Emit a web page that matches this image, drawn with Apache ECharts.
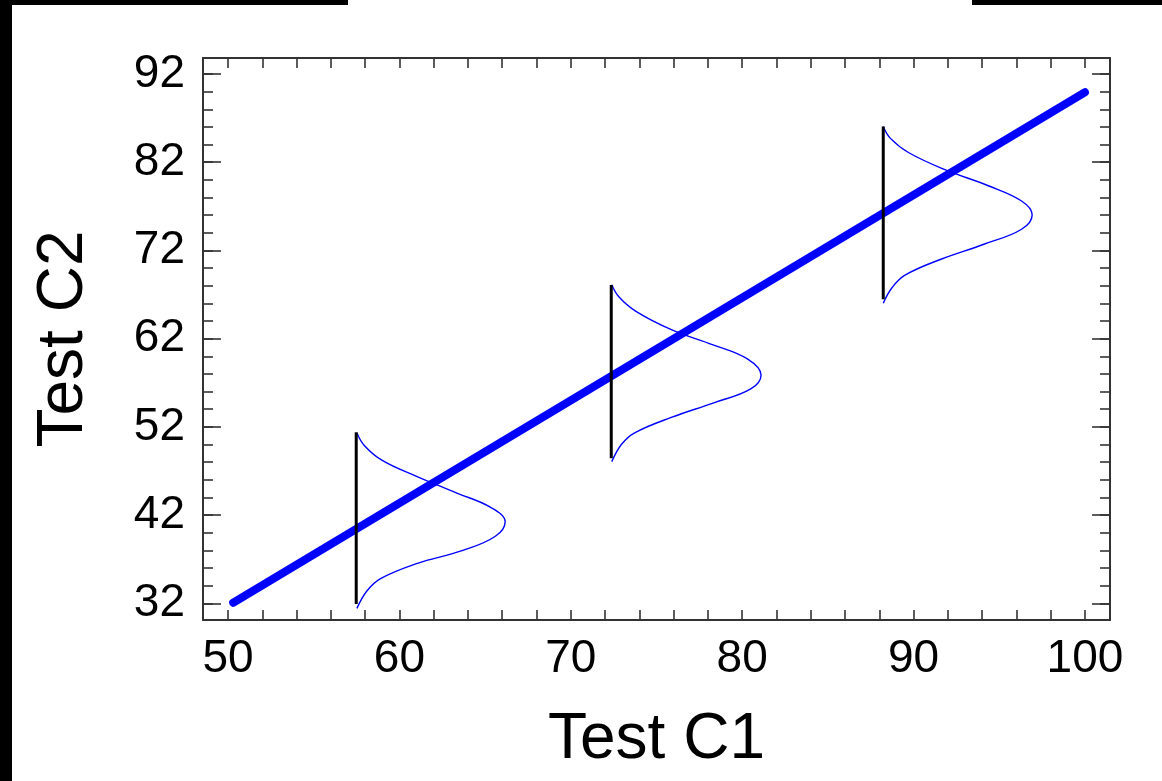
<!DOCTYPE html>
<html>
<head>
<meta charset="utf-8">
<script src="https://cdn.jsdelivr.net/npm/echarts@6/dist/echarts.min.js"></script>
<style>
  html, body { margin: 0; padding: 0; background: #fff; }
  #chart { width: 1162px; height: 781px; }
</style>
</head>
<body>
<div id="chart"></div>
<script>
// Axis ranges and tick positions
const xRange = [48.54, 101.46];
const yRange = [30.11, 93.81];
const xLabelValues = [50, 60, 70, 80, 90, 100];
const xTickValues = [50, 52, 54, 56, 58, 60, 62, 64, 66, 68, 70, 72, 74, 76, 78, 80,
                     82, 84, 86, 88, 90, 92, 94, 96, 98, 100];
const yLabelValues = [32, 42, 52, 62, 72, 82, 92];
const yMinorValues = [32, 34, 36, 38, 40, 42, 44, 46, 48, 50, 52, 54, 56, 58, 60, 62,
                      64, 66, 68, 70, 72, 74, 76, 78, 80, 82, 84, 86, 88, 90, 92];

// Fitted line (Test C1 -> Test C2)
const fitLine = [[50.3, 32.07], [100, 89.93]];

// Vertical reference segments at three Test C1 values
const segment1 = [[57.48, 31.92], [57.48, 51.39]];
const segment2 = [[72.36, 48.44], [72.36, 68.09]];
const segment3 = [[88.23, 66.47], [88.23, 86.04]];

// Conditional distribution curves drawn beside each segment
const curve1 = [
  [57.52, 51.30], [57.95, 49.90], [59.00, 48.20], [61.00, 46.40], [63.35, 44.50],
  [65.30, 42.90], [66.17, 41.25], [65.60, 39.60], [63.70, 38.00], [61.00, 36.50],
  [58.90, 34.80], [58.10, 33.40], [57.52, 31.43]
];
const curve2 = [
  [72.39, 68.10], [72.80, 66.75], [73.80, 65.10], [75.90, 63.00], [78.30, 61.30],
  [80.30, 59.70], [81.10, 57.88], [80.50, 56.30], [78.30, 54.70], [75.90, 53.10],
  [73.70, 51.30], [72.95, 50.00], [72.39, 48.06]
];
const curve3 = [
  [88.23, 86.05], [88.65, 84.70], [89.70, 83.10], [91.90, 81.10], [94.40, 79.30],
  [96.30, 77.60], [96.92, 76.05], [96.30, 74.40], [94.10, 72.70], [91.60, 71.00],
  [89.50, 69.20], [88.75, 67.80], [88.23, 66.02]
];

const FONT = '"Liberation Sans", Arial, Helvetica, sans-serif';
const frameColor = '#333333';

function frameX(position, withLabels) {
  return {
    type: 'value', position: position, min: xRange[0], max: xRange[1],
    axisLine: { show: true, onZero: false, lineStyle: { color: frameColor, width: 2 } },
    axisTick: { show: true, inside: true, length: 10, customValues: xTickValues,
                lineStyle: { color: frameColor, width: 1.6 } },
    axisLabel: withLabels ? { show: true, customValues: xLabelValues, fontSize: 46,
                              color: '#000', fontFamily: FONT, margin: 16 } : { show: false },
    splitLine: { show: false },
    name: withLabels ? 'Test C1' : '',
    nameLocation: 'middle', nameGap: 88,
    nameTextStyle: { fontSize: 64, color: '#000', fontFamily: FONT }
  };
}
function frameY(position, values, len, withLine, withLabels) {
  return {
    type: 'value', position: position, min: yRange[0], max: yRange[1], offset: 0,
    axisLine: { show: withLine, onZero: false, lineStyle: { color: frameColor, width: 2 } },
    axisTick: { show: true, inside: true, length: len, customValues: values,
                lineStyle: { color: frameColor, width: 1.6 } },
    axisLabel: withLabels ? { show: true, customValues: yLabelValues, fontSize: 46,
                              color: '#000', fontFamily: FONT, margin: 18 } : { show: false },
    splitLine: { show: false },
    name: withLabels ? 'Test C2' : '',
    nameLocation: 'middle', nameGap: 107,
    nameTextStyle: { fontSize: 64, color: '#000', fontFamily: FONT }
  };
}

function lineSeries(data, color, width, extra) {
  return Object.assign({
    type: 'line', data: data, xAxisIndex: 0, yAxisIndex: 0,
    symbol: 'none', silent: true, animation: false,
    lineStyle: { color: color, width: width }
  }, extra || {});
}

const chart = echarts.init(document.getElementById('chart'), null, { renderer: 'canvas' });
chart.setOption({
  backgroundColor: '#fff',
  animation: false,
  grid: { left: 203, right: 52, top: 58, bottom: 161, containLabel: false },
  xAxis: [frameX('bottom', true), frameX('top', false)],
  yAxis: [
    frameY('left', yLabelValues, 18, true, true),
    frameY('left', yMinorValues, 10, false, false),
    frameY('right', yLabelValues, 18, true, false),
    frameY('right', yMinorValues, 10, false, false)
  ],
  graphic: [
    { type: 'rect', left: 0, top: 0, shape: { width: 348, height: 5 }, style: { fill: '#000' } },
    { type: 'rect', left: 972, top: 0, shape: { width: 190, height: 5 }, style: { fill: '#000' } },
    { type: 'rect', left: 0, top: 0, shape: { width: 12, height: 781 }, style: { fill: '#000' } }
  ],
  series: [
    lineSeries(curve1, '#0000ff', 1.4, { smooth: 0.4 }),
    lineSeries(curve2, '#0000ff', 1.4, { smooth: 0.4 }),
    lineSeries(curve3, '#0000ff', 1.4, { smooth: 0.4 }),
    lineSeries(fitLine, '#0000ff', 8, { lineStyle: { color: '#0000ff', width: 8, cap: 'round' } }),
    lineSeries(segment1, '#000', 3),
    lineSeries(segment2, '#000', 3),
    lineSeries(segment3, '#000', 3)
  ]
});
</script>
</body>
</html>
